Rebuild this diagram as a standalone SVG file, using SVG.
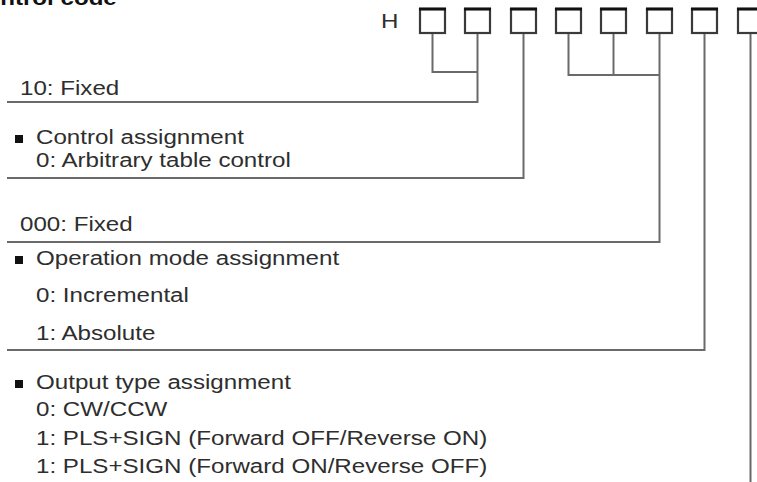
<svg xmlns="http://www.w3.org/2000/svg" width="757" height="482" viewBox="0 0 757 482">
<style>
.t{font-family:"Liberation Sans",Arial,sans-serif;font-size:21px;fill:#2e2e2e}
.title{font-family:"Liberation Sans",Arial,sans-serif;font-size:21px;font-weight:bold;fill:#111}
.box{fill:#fff;stroke:#3a3a3a;stroke-width:2.2}
.boxtop{stroke:#111;stroke-width:3}
.bul{fill:#111}
.c{fill:none;stroke:#6a6a6a;stroke-width:2}
</style>
<rect width="757" height="482" fill="#fff"/>
<g id="title"><text class="title" transform="translate(-32 5) scale(1.15 1)">Control code</text></g>
<g id="code">
<text class="t" transform="translate(381 28) scale(1.15 1)">H</text>
<g id="d1"><rect class="box" x="420" y="9" width="25" height="24"/><line class="boxtop" x1="419" y1="9" x2="446" y2="9"/></g>
<g id="d2"><rect class="box" x="465" y="9" width="25" height="24"/><line class="boxtop" x1="464" y1="9" x2="491" y2="9"/></g>
<g id="d3"><rect class="box" x="511" y="9" width="25" height="24"/><line class="boxtop" x1="510" y1="9" x2="537" y2="9"/></g>
<g id="d4"><rect class="box" x="556" y="9" width="25" height="24"/><line class="boxtop" x1="555" y1="9" x2="582" y2="9"/></g>
<g id="d5"><rect class="box" x="601" y="9" width="25" height="24"/><line class="boxtop" x1="600" y1="9" x2="627" y2="9"/></g>
<g id="d6"><rect class="box" x="647" y="9" width="25" height="24"/><line class="boxtop" x1="646" y1="9" x2="673" y2="9"/></g>
<g id="d7"><rect class="box" x="692" y="9" width="25" height="24"/><line class="boxtop" x1="691" y1="9" x2="718" y2="9"/></g>
<g id="d8"><rect class="box" x="738" y="9" width="25" height="24"/><line class="boxtop" x1="737" y1="9" x2="764" y2="9"/></g>
</g>
<g id="connectors">
<path class="c" d="M432.5 34V72H477.5"/>
<path class="c" d="M477.5 34V102H7"/>
<path class="c" d="M523.5 34V178H7"/>
<path class="c" d="M568.5 34V75H659.5"/>
<path class="c" d="M613.5 34V75"/>
<path class="c" d="M659.5 34V242H7"/>
<path class="c" d="M704.5 34V350H7"/>
<path class="c" d="M750.5 34V482"/>
</g>
<g id="fixed10"><text class="t" transform="translate(20 95) scale(1.15 1)">10: Fixed</text></g>
<g id="control">
<rect class="bul" x="15" y="135" width="8" height="8"/>
<text class="t" transform="translate(36 144) scale(1.15 1)">Control assignment</text>
<text class="t" transform="translate(36 167) scale(1.15 1)">0: Arbitrary table control</text>
</g>
<g id="fixed000"><text class="t" transform="translate(20 231) scale(1.15 1)">000: Fixed</text></g>
<g id="opmode">
<rect class="bul" x="15" y="256" width="8" height="8"/>
<text class="t" transform="translate(36 265) scale(1.15 1)">Operation mode assignment</text>
<text class="t" transform="translate(36 302) scale(1.15 1)">0: Incremental</text>
<text class="t" transform="translate(36 340) scale(1.15 1)">1: Absolute</text>
</g>
<g id="output">
<rect class="bul" x="15" y="380" width="8" height="8"/>
<text class="t" transform="translate(36 389) scale(1.15 1)">Output type assignment</text>
<text class="t" transform="translate(36 416) scale(1.15 1)">0: CW/CCW</text>
<text class="t" transform="translate(36 445) scale(1.15 1)">1: PLS+SIGN (Forward OFF/Reverse ON)</text>
<text class="t" transform="translate(36 473) scale(1.15 1)">1: PLS+SIGN (Forward ON/Reverse OFF)</text>
</g>
</svg>
